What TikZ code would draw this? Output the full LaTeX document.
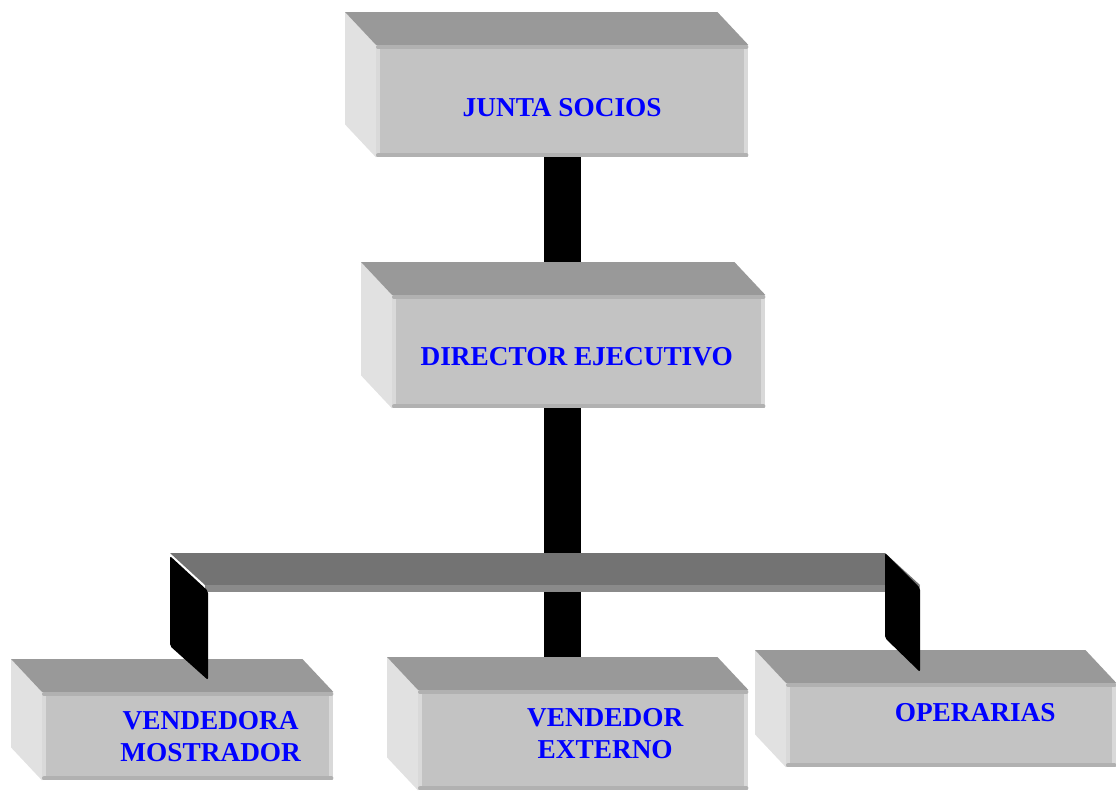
\documentclass[tikz,border=0pt]{standalone}
\usepackage{fontspec}
\setmainfont{Liberation Serif}
\usetikzlibrary{calc}

\definecolor{tapagris}{HTML}{999999}
\definecolor{ladogris}{HTML}{E1E1E1}
\definecolor{frentegris}{HTML}{C3C3C3}
\definecolor{bordegris}{HTML}{B1B1B1}
\definecolor{brillogris}{HTML}{D9D9D9}
\definecolor{losaarriba}{HTML}{737373}
\definecolor{losafrente}{HTML}{8A8A8A}
\definecolor{azul}{RGB}{0,0,255}

\pgfdeclarelayer{fondo}
\pgfsetlayers{fondo,main}

\tikzset{
  frente/.style={fill=frentegris, inner sep=0pt, anchor=north west},
  texto/.style={text=azul, font=\bfseries\fontsize{27.3}{32}\selectfont, align=center},
  conector/.style={line width=37pt, black},
}

% caras de la caja alrededor del frente
\newcommand{\caja}[1]{%
  \fill[ladogris] (#1.north west) -- ++(-31,-33) -- ($(#1.south west)+(-31,-33)$) -- (#1.south west) -- cycle;
  \fill[tapagris] (#1.north west) -- ++(-31,-33) -- ($(#1.north east)+(-31,-33)$) -- (#1.north east) -- cycle;
  \fill[brillogris] (#1.north west) rectangle ($(#1.south west)+(4,0)$);
  \fill[brillogris] (#1.north east) rectangle ($(#1.south east)+(-4,0)$);
  \draw[bordegris, line width=4pt, line cap=round] ($(#1.north west)+(2,2)$) -- ($(#1.north east)+(-2,2)$);
  \draw[bordegris, line width=4pt, line cap=round] ($(#1.south west)+(2,-2)$) -- ($(#1.south east)+(-2,-2)$);
}

\begin{document}
\begin{tikzpicture}[x=1pt,y=-1pt]
  \useasboundingbox (0,0) rectangle (1116,790);

  % cajas
  \node[frente, minimum width=372, minimum height=112,
    label={[texto, yshift=-6]center:JUNTA SOCIOS}] (junta) at (376,45) {};
  \caja{junta}
  \node[frente, minimum width=373, minimum height=113,
    label={[texto, xshift=-2, yshift=-5]center:DIRECTOR EJECUTIVO}] (director) at (392,295) {};
  \caja{director}
  \node[frente, minimum width=291, minimum height=88,
    label={[texto, xshift=23]center:VENDEDORA\\MOSTRADOR}] (mostrador) at (42,692) {};
  \caja{mostrador}
  \node[frente, minimum width=330, minimum height=100,
    label={[texto, xshift=22, yshift=7]center:VENDEDOR\\EXTERNO}] (externo) at (418,690) {};
  \caja{externo}
  \node[frente, minimum width=330, minimum height=84,
    label={[texto, xshift=24, yshift=13]center:OPERARIAS}] (operarias) at (786,683) {};
  \caja{operarias}

  % conectores
  \begin{pgfonlayer}{fondo}
    \draw[conector] (junta.south) -- (junta.south |- director.north);
    \draw[conector] (junta.south |- director.south) -- (junta.south |- externo.north);
  \end{pgfonlayer}

  % barra horizontal
  \coordinate (barra-izq) at (170,553);
  \coordinate (barra-der) at (885,553);
  \fill[losaarriba] (barra-izq) -- (barra-der) -- ++(35,32) -- ($(barra-izq)+(35,32)$) -- cycle;
  \fill[losafrente] ($(barra-izq)+(35,32)$) rectangle ($(barra-der)+(35,39)$);

  \fill[black, rounded corners=2pt] ($(barra-izq)+(0,3)$) -- ++(38,35) -- ++(0,89) -- ++(-38,-34) -- cycle;
  \fill[black, rounded corners=2pt] (barra-der) -- ++(35,35) -- ++(0,84) -- ++(-35,-34) -- cycle;
\end{tikzpicture}
\end{document}
